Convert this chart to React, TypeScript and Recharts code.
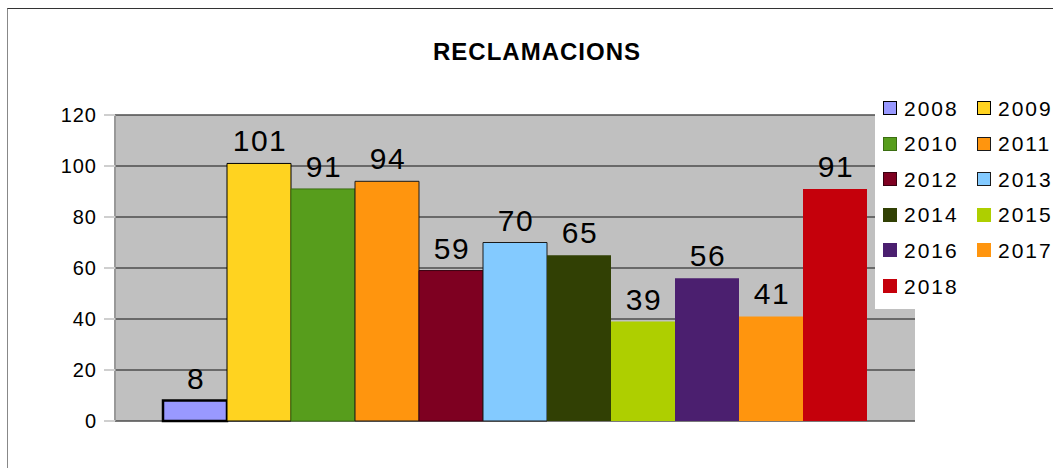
import React from 'react';
import { BarChart, Bar, XAxis, YAxis, CartesianGrid, Legend } from 'recharts';

const years = ['2008', '2009', '2010', '2011', '2012', '2013', '2014', '2015', '2016', '2017', '2018'];
const claims = [8, 101, 91, 94, 59, 70, 65, 39, 56, 41, 91];
const colors = ['#9999ff', '#ffd320', '#579d1c', '#ff950e', '#7e0021', '#83caff', '#314004', '#aecf00', '#4b1f6f', '#ff950e', '#c5000b'];
const strokes = ['#000000', '#000000', '#3b6e12', '#1a1a1a', '#3a0010', '#1a1a1a', 'none', 'none', 'none', 'none', 'none'];
const strokeWidths = [2.5, 1, 1, 1, 1, 1, 0, 0, 0, 0, 0];
const yTicks = [0, 20, 40, 60, 80, 100, 120];

const FONT = '"Liberation Sans", Arial, sans-serif';

// one row, one key per year
const row: Record<string, number | string> = { name: '' };
years.forEach((y, i) => {
  row['y' + y] = claims[i];
});
const data = [row];

const renderLabel = (props: any) => {
  const { x, y, width, value } = props;
  return (
    <text
      x={x + width / 2 + 1}
      y={y - 12}
      textAnchor="middle"
      fontSize={30}
      letterSpacing={1.5}
      fontFamily={FONT}
      fill="#000"
    >
      {value}
    </text>
  );
};

const LegendBox = () => (
  <div style={{ position: 'relative', width: 178, height: 218, background: '#fff', fontFamily: FONT }}>
    {years.map((y, i) => {
      const col = i % 2;
      const r = Math.floor(i / 2);
      return (
        <div
          key={y}
          style={{
            position: 'absolute',
            left: col === 0 ? 8 : 102,
            top: 17 + r * 35.6 - 12,
            height: 24,
            display: 'flex',
            alignItems: 'center',
          }}
        >
          <span
            style={{
              width: 14,
              height: 14,
              boxSizing: 'border-box',
              background: colors[i],
              border: `1px solid ${strokes[i] === 'none' ? colors[i] : strokes[i]}`,
              marginRight: 7,
            }}
          />
          <span style={{ fontSize: 21, letterSpacing: 2, lineHeight: '21px', color: '#000' }}>{y}</span>
        </div>
      );
    })}
  </div>
);

export default function App() {
  return (
    <div
      style={{
        position: 'fixed',
        left: 7,
        top: 8,
        width: 1046,
        height: 460,
        boxSizing: 'border-box',
        borderTop: '1px solid #333',
        borderLeft: '1px solid #888',
        background: '#fff',
        overflow: 'hidden',
      }}
    >
      <div
        style={{
          position: 'absolute',
          left: 0,
          width: 1058,
          top: 31,
          textAlign: 'center',
          fontFamily: FONT,
          fontWeight: 'bold',
          fontSize: 24,
          letterSpacing: 1,
          lineHeight: '24px',
          color: '#000',
        }}
      >
        RECLAMACIONS
      </div>
      <div style={{ position: 'absolute', left: 0, top: 0 }}>
        <BarChart
          width={1045}
          height={459}
          data={data}
          margin={{ top: 106, right: 138, bottom: 47, left: 0 }}
          barCategoryGap="6%"
          barGap={0}
        >
          <CartesianGrid vertical={false} fill="#c0c0c0" stroke="#4d4d4d" strokeWidth={1.5} />
          <XAxis dataKey="name" hide />
          <YAxis
            width={107}
            domain={[0, 120]}
            ticks={yTicks}
            interval={0}
            tickSize={11}
            tickMargin={7}
            axisLine={{ stroke: '#999', strokeWidth: 2 }}
            tickLine={{ stroke: '#cfcfcf', strokeWidth: 2 }}
            tick={{ fontSize: 20, fill: '#000', fontFamily: FONT, letterSpacing: 1 }}
          />
          <YAxis
            yAxisId="right"
            orientation="right"
            width={0}
            domain={[0, 120]}
            tick={false}
            tickLine={false}
            axisLine={{ stroke: '#999', strokeWidth: 2 }}
          />
          <Legend
            layout="vertical"
            align="center"
            verticalAlign="middle"
            wrapperStyle={{ left: 867, top: 82, width: 178 }}
            content={() => <LegendBox />}
          />
          {years.map((y, i) => (
            <Bar
              key={y}
              dataKey={'y' + y}
              name={y}
              fill={colors[i]}
              stroke={strokes[i]}
              strokeWidth={strokeWidths[i]}
              isAnimationActive={false}
              label={renderLabel}
            />
          ))}
        </BarChart>
      </div>
    </div>
  );
}
